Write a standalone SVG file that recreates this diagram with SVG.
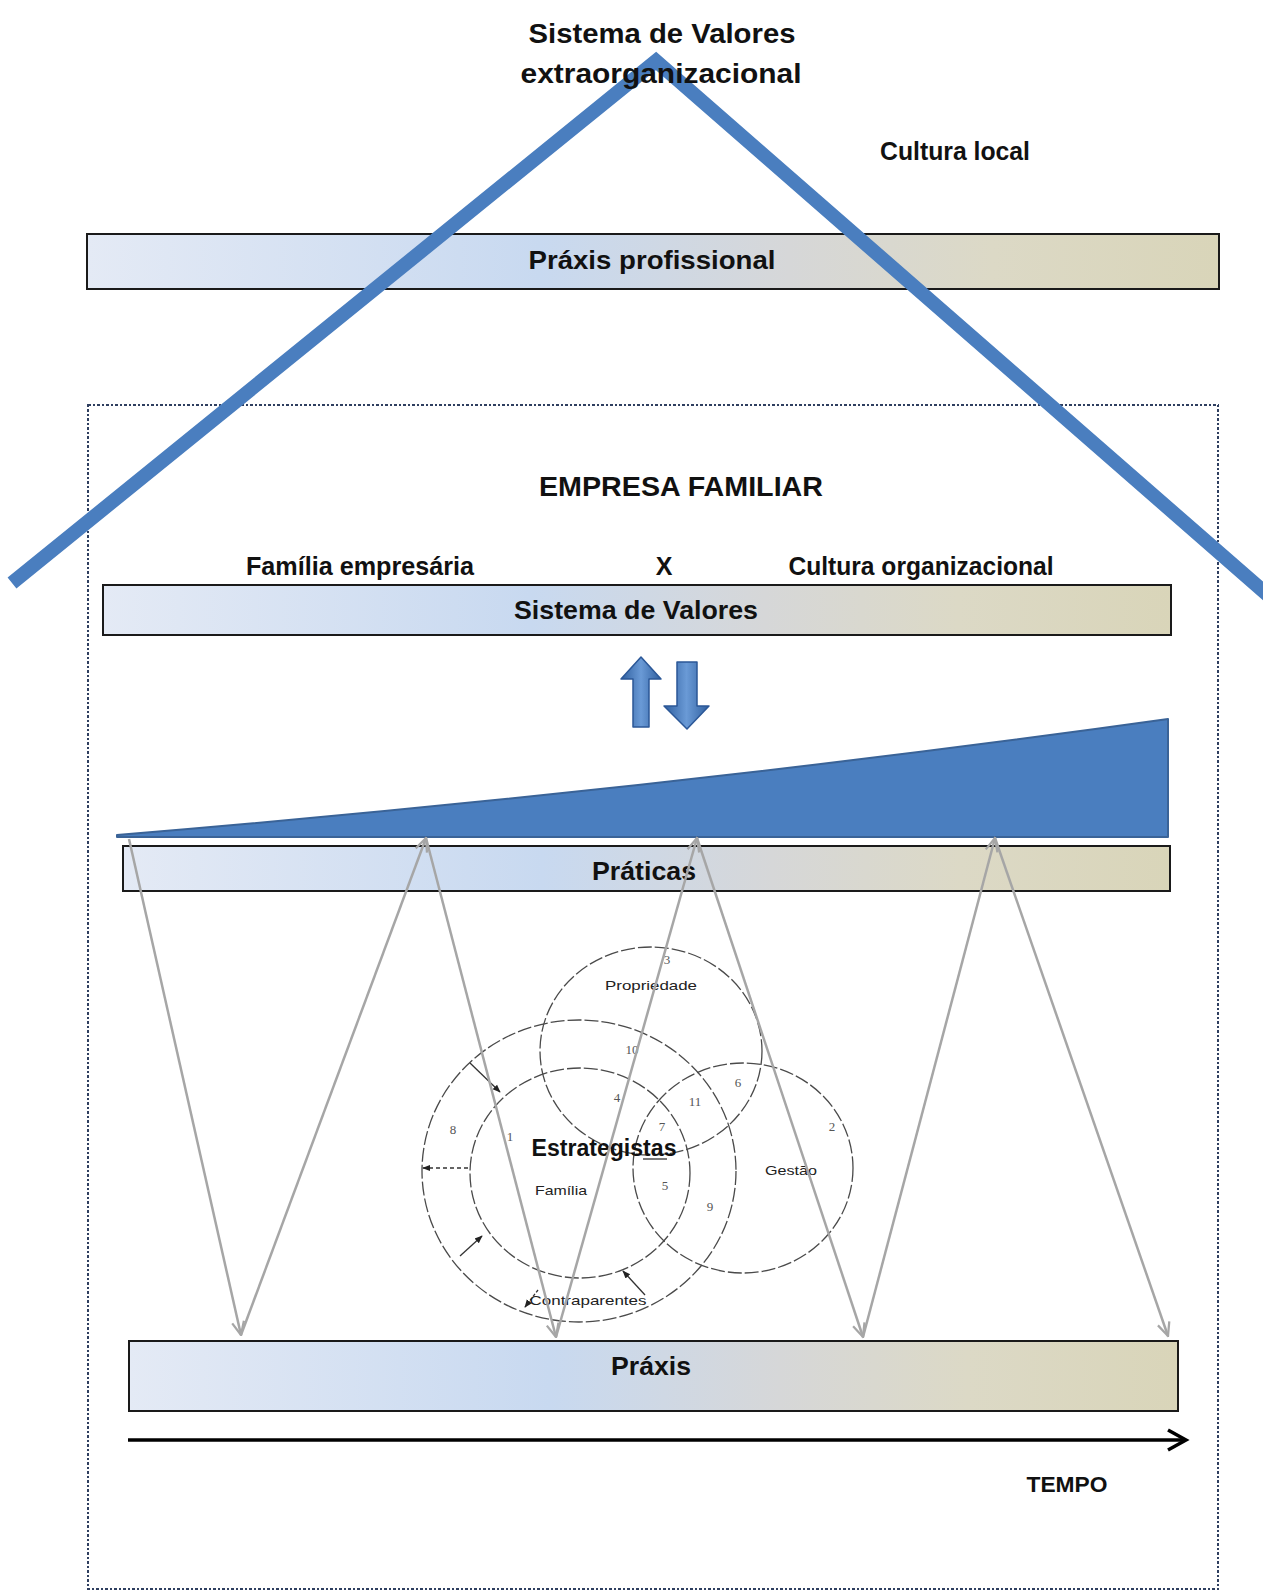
<svg xmlns="http://www.w3.org/2000/svg" width="1263" height="1595" viewBox="0 0 1263 1595">
  <defs>
    <style>
      .lbl { font-family: "Liberation Sans", Arial, sans-serif; font-weight: bold; fill: #111; }
      .bar { fill: url(#barGrad); stroke: #1a1a1a; stroke-width: 2; }
      .zig { fill: none; stroke: #a6a6a6; stroke-width: 2.5; marker-end: url(#grayHead); }
      .ring { fill: none; stroke: #4a4a4a; stroke-width: 1.3; stroke-dasharray: 14 3; }
      .num { font-family: "Liberation Serif", "Times New Roman", serif; font-size: 13px; fill: #555; text-anchor: middle; }
      .small { font-family: "Liberation Sans", Arial, sans-serif; font-size: 13px; fill: #222; text-anchor: middle; }
      .thin { fill: none; stroke: #333; stroke-width: 1.3; marker-end: url(#blackHead); }
    </style>
    <linearGradient id="barGrad" x1="0" y1="0" x2="1" y2="0">
      <stop offset="0" stop-color="#e4eaf5"/>
      <stop offset="0.4" stop-color="#c8d9f0"/>
      <stop offset="0.62" stop-color="#d6d7d8"/>
      <stop offset="0.8" stop-color="#dcd9c6"/>
      <stop offset="1" stop-color="#d9d5b9"/>
    </linearGradient>
    <linearGradient id="arrowGrad" x1="0" y1="0" x2="1" y2="0">
      <stop offset="0" stop-color="#2f5f9f"/>
      <stop offset="0.5" stop-color="#6a9ad6"/>
      <stop offset="1" stop-color="#2f5f9f"/>
    </linearGradient>
    <marker id="grayHead" viewBox="0 0 12 12" refX="11" refY="6" markerWidth="16" markerHeight="16" markerUnits="userSpaceOnUse" orient="auto">
      <path d="M1,1.5 L11,6 L1,10.5" fill="none" stroke="#a6a6a6" stroke-width="1.7"/>
    </marker>
    <marker id="blackHead" viewBox="0 0 10 10" refX="9" refY="5" markerWidth="8" markerHeight="8" markerUnits="userSpaceOnUse" orient="auto">
      <path d="M0,1 L10,5 L0,9 Z" fill="#222"/>
    </marker>
  </defs>

  <rect width="1263" height="1595" fill="#fff"/>

  <!-- dotted frame of the family business -->
  <g id="frame">
    <rect x="88" y="405" width="1130" height="1184" fill="none" stroke="#2f3f60" stroke-width="2.5" stroke-dasharray="2.5 2" shape-rendering="crispEdges"/>
  </g>

  <g id="praxis-profissional">
    <rect class="bar" x="87" y="234" width="1132" height="55"/>
    <text class="lbl" x="652" y="269" font-size="25" text-anchor="middle" textLength="247" lengthAdjust="spacingAndGlyphs">Práxis profissional</text>
  </g>

  <!-- big roof shape of the outer value system -->
  <g id="roof">
    <polyline points="12,583 656,61 1270,597" fill="none" stroke="#4a7ebf" stroke-width="14" stroke-linejoin="miter"/>
  </g>

  <g id="top-title">
    <text class="lbl" x="662" y="43" font-size="28" text-anchor="middle" textLength="267" lengthAdjust="spacingAndGlyphs">Sistema de Valores</text>
    <text class="lbl" x="661" y="83" font-size="28" text-anchor="middle" textLength="281" lengthAdjust="spacingAndGlyphs">extraorganizacional</text>
  </g>

  <g id="cultura-local">
    <text class="lbl" x="955" y="160" font-size="25" text-anchor="middle" textLength="150" lengthAdjust="spacingAndGlyphs">Cultura local</text>
  </g>

  <g id="empresa-familiar">
    <text class="lbl" x="681" y="496" font-size="28" text-anchor="middle" textLength="284" lengthAdjust="spacingAndGlyphs">EMPRESA FAMILIAR</text>
  </g>

  <g id="valores-header">
    <text class="lbl" x="360" y="575" font-size="25" text-anchor="middle" textLength="228" lengthAdjust="spacingAndGlyphs">Família empresária</text>
    <text class="lbl" x="664" y="575" font-size="25" text-anchor="middle">X</text>
    <text class="lbl" x="921" y="575" font-size="25" text-anchor="middle" textLength="265" lengthAdjust="spacingAndGlyphs">Cultura organizacional</text>
  </g>

  <g id="sistema-valores">
    <rect class="bar" x="103" y="585" width="1068" height="50"/>
    <text class="lbl" x="636" y="619" font-size="25" text-anchor="middle" textLength="244" lengthAdjust="spacingAndGlyphs">Sistema de Valores</text>
  </g>

  <!-- two-way exchange arrows -->
  <g id="exchange">
    <path d="M641,657 L661,679 L649,679 L649,727 L633,727 L633,679 L621,679 Z" fill="url(#arrowGrad)" stroke="#2b5797" stroke-width="1.5" stroke-linejoin="round"/>
    <path d="M677,662 L697,662 L697,706 L709,706 L687,729 L664,706 L677,706 Z" fill="url(#arrowGrad)" stroke="#2b5797" stroke-width="1.5" stroke-linejoin="round"/>
  </g>

  <!-- growing wedge -->
  <g id="wedge">
    <path d="M117,835 Q660,790 1168,719 L1168,837 L117,837 Z" fill="#4a7ebf" stroke="#3a6397" stroke-width="2" stroke-linejoin="round"/>
  </g>

  <g id="praticas">
    <rect class="bar" x="123" y="846" width="1047" height="45"/>
    <text class="lbl" x="644" y="880" font-size="25" text-anchor="middle" textLength="104" lengthAdjust="spacingAndGlyphs">Práticas</text>
  </g>

  <g id="praxis">
    <rect class="bar" x="129" y="1341" width="1049" height="70"/>
    <text class="lbl" x="651" y="1375" font-size="25" text-anchor="middle" textLength="80" lengthAdjust="spacingAndGlyphs">Práxis</text>
  </g>

  <!-- three-circle model with the strategists -->
  <g id="estrategistas">
    <ellipse class="ring" cx="579" cy="1171" rx="157" ry="151" stroke-dasharray="7 6"/>
    <ellipse class="ring" cx="651" cy="1051" rx="111" ry="104"/>
    <ellipse class="ring" cx="580" cy="1173" rx="110" ry="105"/>
    <ellipse class="ring" cx="743" cy="1168" rx="110" ry="105"/>

    <path class="thin" d="M470,1063 L500,1092"/>
    <path class="thin" d="M468,1168 L423,1168" stroke-dasharray="4 3"/>
    <path class="thin" d="M460,1256 L482,1236"/>
    <path class="thin" d="M645,1295 L623,1271"/>
    <path class="thin" d="M538,1290 L525,1307" stroke-dasharray="3 2"/>

    <text class="num" x="667" y="964">3</text>
    <text class="num" x="632" y="1054">10</text>
    <text class="num" x="617" y="1102">4</text>
    <text class="num" x="695" y="1106">11</text>
    <text class="num" x="738" y="1087">6</text>
    <text class="num" x="453" y="1134">8</text>
    <text class="num" x="510" y="1141">1</text>
    <text class="num" x="662" y="1131">7</text>
    <text class="num" x="665" y="1190">5</text>
    <text class="num" x="710" y="1211">9</text>
    <text class="num" x="832" y="1131">2</text>

    <text class="small" x="651" y="990" textLength="92" lengthAdjust="spacingAndGlyphs">Propriedade</text>
    <text class="small" x="561" y="1195" textLength="52" lengthAdjust="spacingAndGlyphs">Família</text>
    <text class="small" x="791" y="1175" textLength="52" lengthAdjust="spacingAndGlyphs">Gestão</text>
    <text class="small" x="588" y="1305" textLength="117" lengthAdjust="spacingAndGlyphs">Contraparentes</text>

    <text class="lbl" x="604" y="1156" font-size="23" fill="#222" text-anchor="middle" textLength="145" lengthAdjust="spacingAndGlyphs">Estrategistas</text>
    <line x1="643" y1="1159" x2="667" y2="1159" stroke="#333" stroke-width="1.3"/>
  </g>

  <!-- zig-zag flow between practices and praxis -->
  <g id="connectors">
    <line class="zig" x1="129" y1="839" x2="241" y2="1335"/>
    <line class="zig" x1="241" y1="1335" x2="426" y2="838"/>
    <line class="zig" x1="426" y1="838" x2="556" y2="1337"/>
    <line class="zig" x1="556" y1="1337" x2="697" y2="838"/>
    <line class="zig" x1="697" y1="838" x2="863" y2="1337"/>
    <line class="zig" x1="863" y1="1337" x2="995" y2="838"/>
    <line class="zig" x1="995" y1="838" x2="1168" y2="1336"/>
  </g>

  <!-- time axis -->
  <g id="tempo">
    <line x1="128" y1="1440" x2="1184" y2="1440" stroke="#000" stroke-width="3.5"/>
    <polyline points="1168,1430 1186,1440 1168,1450" fill="none" stroke="#000" stroke-width="3.5" stroke-linejoin="miter"/>
    <text class="lbl" x="1067" y="1492" font-size="22" text-anchor="middle" textLength="81" lengthAdjust="spacingAndGlyphs">TEMPO</text>
  </g>
</svg>
